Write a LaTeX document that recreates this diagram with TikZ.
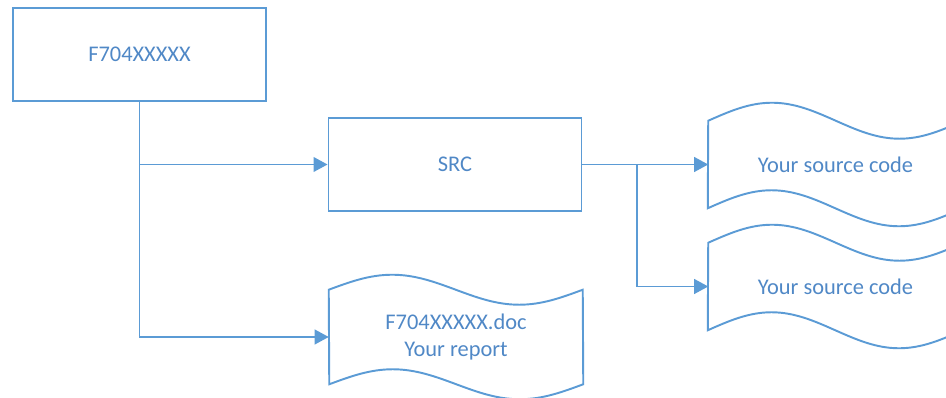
\documentclass[tikz,border=0pt]{standalone}
\usepackage{fontspec}
\setmainfont{Carlito}
\usetikzlibrary{arrows.meta}
\definecolor{lineblue}{RGB}{91,155,213}
\definecolor{textblue}{RGB}{80,136,198}

% wavy punched-tape outline around a named node:
% #1 node, #2 quarter width, #3 wave amplitude
\newcommand\tapeoutline[3]{%
  \draw[outline] (#1.north west)
    sin ++(#2,-#3) cos ++(#2,#3) sin ++(#2,#3) cos ++(#2,-#3)
    -- (#1.south east)
    sin ++(-#2,#3) cos ++(-#2,-#3) sin ++(-#2,-#3) cos ++(-#2,#3)
    -- cycle;}

\begin{document}
\begin{tikzpicture}[x=0.75pt,y=-0.75pt,
  outline/.style={draw=lineblue,line width=1.45pt,line join=miter},
  label/.style={text=textblue,font=\fontsize{16.8}{20}\selectfont,align=center},
  box/.style={outline,label,inner sep=0pt,minimum width=189.75pt,minimum height=69.75pt},
  tape/.style={label,inner sep=0pt,minimum width=190.5pt},
  conn/.style={draw=lineblue,line width=1.45pt,-{Triangle[length=10.5pt,width=11pt]}}]
\useasboundingbox (0,0) rectangle (946,398);
\clip (0,0) rectangle (946,398);

% folders
\node[box] (main) at (139.5,54.5) {F704XXXXX};
\node[box] (src) at (455,164.5) {SRC};

% files
\node[tape,minimum height=70.5pt] (doc3) at (456,337) {F704XXXXX.doc\\Your report};
\node[tape,minimum height=65.25pt] (doc1) at (835.5,164.5) {Your source code};
\node[tape,minimum height=65.25pt] (doc2) at (835.5,286.5) {Your source code};
\tapeoutline{doc3}{63.5}{15}
\tapeoutline{doc1}{63.75}{18}
\tapeoutline{doc2}{63.75}{18}

% connectors
\coordinate (fork) at (637,164.5);
\draw[conn] (main.south) |- (src.west);
\draw[conn] (main.south) |- (doc3.west);
\draw[conn] (src.east) -- (doc1.west);
\draw[conn] (fork) |- (doc2.west);
\end{tikzpicture}
\end{document}
